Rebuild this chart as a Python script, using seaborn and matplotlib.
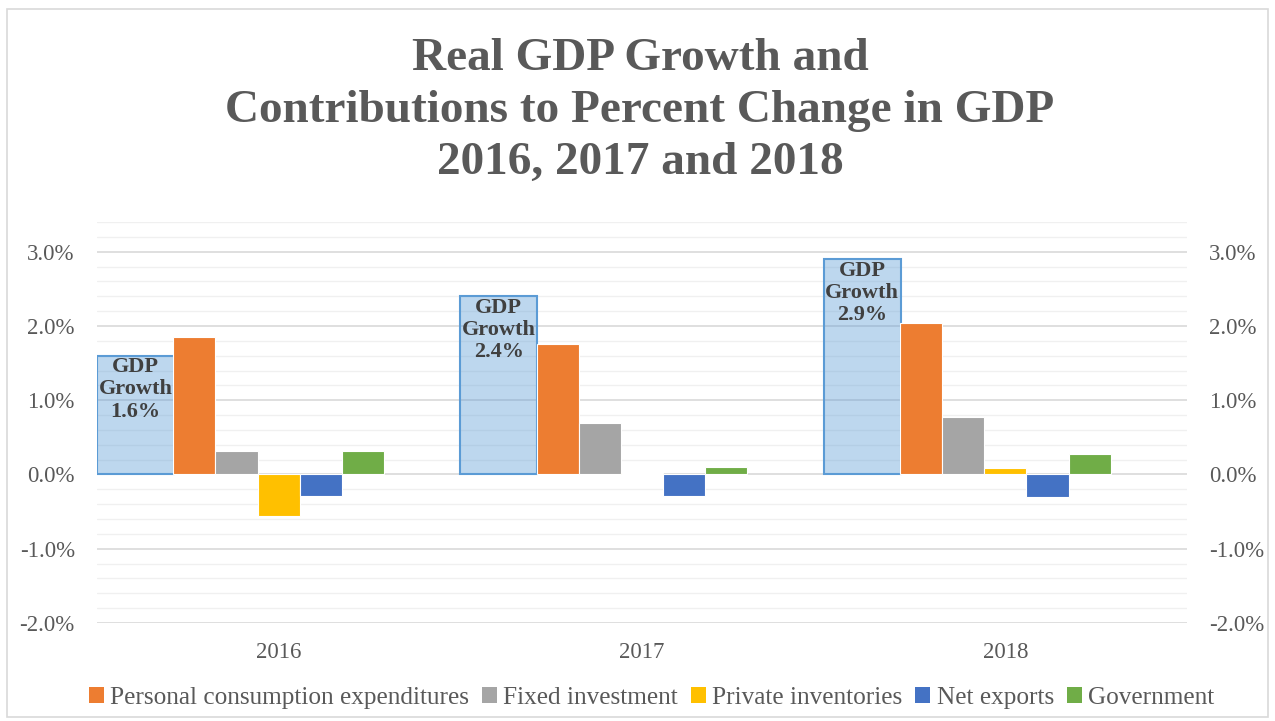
import numpy as np
import pandas as pd
import matplotlib
matplotlib.use("Agg")
import matplotlib.pyplot as plt
from matplotlib.patches import FancyBboxPatch, Patch
from matplotlib.ticker import FixedLocator
import seaborn as sns

# ---- data ----
years = ["2016", "2017", "2018"]
gdp_growth = [1.6, 2.4, 2.9]
components = ["Personal consumption expenditures", "Fixed investment",
              "Private inventories", "Net exports", "Government"]
pce = [1.85, 1.76, 2.04]
fixed_inv = [0.31, 0.69, 0.78]
inventories = [-0.56, 0.02, 0.09]
net_exports = [-0.29, -0.29, -0.30]
government = [0.31, 0.10, 0.28]
ytick_vals = [-2.0, -1.0, 0.0, 1.0, 2.0, 3.0]

colors = ["#ED7D31", "#A5A5A5", "#FFC000", "#4472C4", "#70AD47"]
text_col = "#595959"
serif = "Liberation Serif"

sns.set_theme(style="white")
plt.rcParams["font.family"] = [serif, "DejaVu Serif"]

series = [pce, fixed_inv, inventories, net_exports, government]
df = pd.DataFrame([
    {"Year": y, "Component": c, "Value": s[i]}
    for c, s in zip(components, series)
    for i, y in enumerate(years)
])

fig = plt.figure(figsize=(12.75, 7.21), dpi=100)
fig.patch.set_facecolor("white")
ax = fig.add_axes([97 / 1275, (721 - 623) / 721, (1187 - 97) / 1275, (623 - 222) / 721])

# grid
ax.set_ylim(-2.0, 3.4)
ax.set_xlim(-0.5, 2.5)
for v in np.arange(-2.0, 3.41, 0.2):
    major = abs(v - round(v)) < 1e-6
    ax.axhline(v, color="#D9D9D9" if major else "#F0F0F0",
               lw=1.2 if major else 1.0, zorder=0)

# GDP growth bars (wide, light blue, left side of each category)
xpos = np.arange(len(years))
ax.bar(xpos - 0.5, gdp_growth, width=0.212, align="edge",
       facecolor=(0.357, 0.608, 0.835, 0.40), edgecolor="#5B9BD5",
       linewidth=1.5, zorder=2)
for x, g in zip(xpos, gdp_growth):
    ax.text(x - 0.5 + 0.106, g - 0.02, f"GDP\nGrowth\n{g:.1f}%",
            ha="center", va="top", fontsize=16, fontweight="bold",
            color="#404040", linespacing=1.15, zorder=5, family=serif)

# contribution bars
sns.barplot(data=df, x="Year", y="Value", hue="Component", hue_order=components,
            palette=colors, width=0.58, dodge=True, ax=ax, legend=False,
            edgecolor="white", linewidth=0.8, saturation=1, zorder=3)
ax.set_xlim(-0.5, 2.5)
ax.set_ylim(-2.0, 3.4)

ax.set_xlabel("")
ax.set_ylabel("")
ax.yaxis.set_major_locator(FixedLocator(ytick_vals))
ax.set_yticklabels([f"{v:.1f}%" for v in ytick_vals])
ax.tick_params(axis="y", length=0, pad=16, labelsize=16.5, labelcolor=text_col)
ax.tick_params(axis="x", length=0, pad=14, labelsize=16.5, labelcolor=text_col)
for s in ax.spines.values():
    s.set_visible(False)
ax.grid(False)

ax2 = ax.twinx()
ax2.set_ylim(-2.0, 3.4)
ax2.yaxis.set_major_locator(FixedLocator(ytick_vals))
ax2.set_yticklabels([f"{v:.1f}%" for v in ytick_vals])
ax2.tick_params(axis="y", length=0, pad=16, labelsize=16.5, labelcolor=text_col)
for s in ax2.spines.values():
    s.set_visible(False)
ax2.grid(False)

# legend
handles = [Patch(facecolor=c, edgecolor="none") for c in colors]
fig.legend(handles, components, loc="center", bbox_to_anchor=(0.511, (721 - 698) / 721),
           ncol=5, frameon=False, fontsize=18.2, handlelength=0.6, handleheight=0.6,
           handletextpad=0.25, columnspacing=0.5, labelcolor=text_col)

# title
fig.text(0.502, (721 - 111) / 721,
         "Real GDP Growth and\nContributions to Percent Change in GDP\n2016, 2017 and 2018",
         ha="center", va="center", fontsize=34, fontweight="bold", color=text_col,
         linespacing=1.3, family=serif)

# chart border
fig.patches.append(FancyBboxPatch((7 / 1275, 4 / 721), 1 - 14 / 1275, 1 - 13 / 721,
                                  boxstyle="square,pad=0", transform=fig.transFigure,
                                  facecolor="none", edgecolor="#D9D9D9", lw=1.2))

fig.savefig("out.png", dpi=100, facecolor="white")
